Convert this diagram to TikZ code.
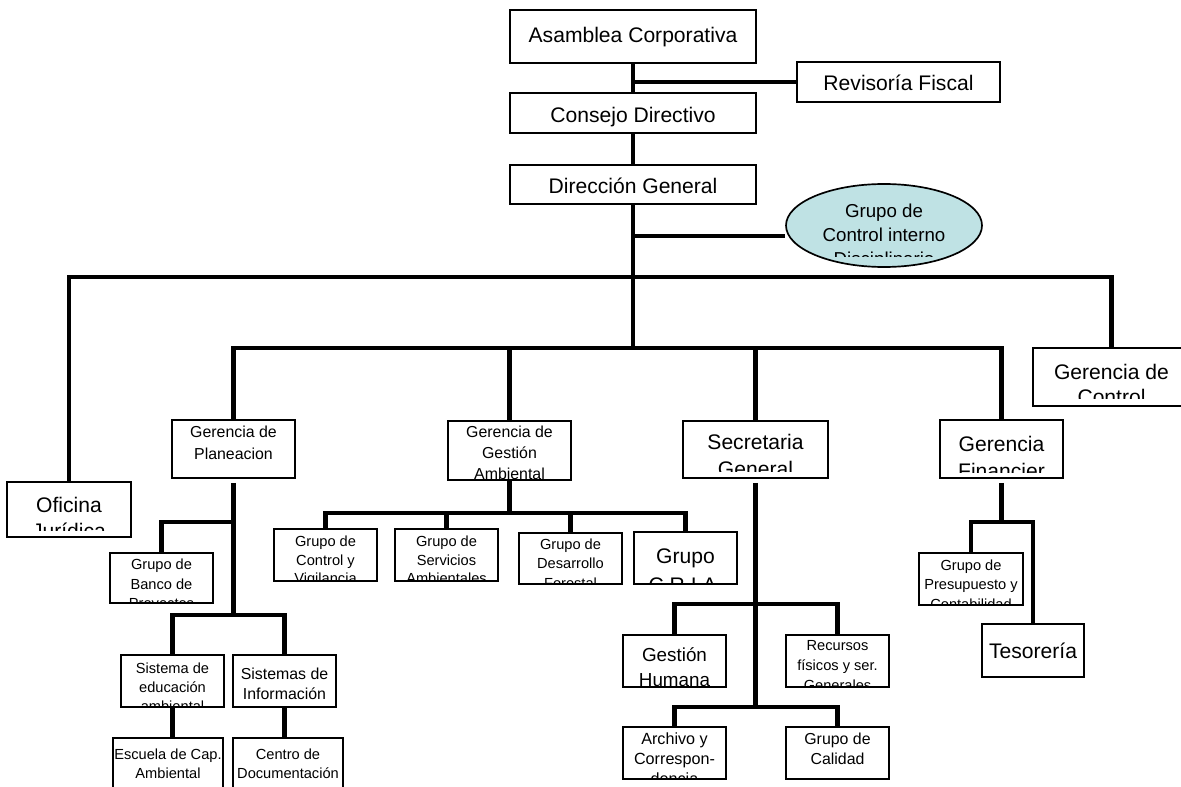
\documentclass[tikz,border=0pt]{standalone}
\usepackage{fontspec}
\setmainfont{Liberation Sans}
\usetikzlibrary{shapes.geometric}

\newcommand\px{0.025cm}
\newcommand\fs[2]{\fontsize{#1}{#2}\selectfont}
\definecolor{ctrlblue}{RGB}{191,226,228}

\tikzset{
  box/.style 2 args={draw, line width=1.2pt, fill=white, inner sep=0pt,
    minimum width=#1*\px, minimum height=#2*\px},
  % font, top offset, bottom margin, text
  txt/.style n args={4}{path picture={
    \clip ([yshift=#3*\px]path picture bounding box.south west) rectangle (path picture bounding box.north east);
    \node[rectangle, draw=none, fill=none, minimum size=0pt,
    anchor=north, inner sep=0pt, align=center, font=#1]
    at ([yshift=-#2*\px]path picture bounding box.north) {#4};}},
  link/.style={line width=3.1pt},
}

\begin{document}
\begin{tikzpicture}[x=0.025cm, y=-0.025cm]
\useasboundingbox (0,0) rectangle (1181,787);
\clip (0,0) rectangle (1181,787);

% top of the chart
\node[box={246}{53}, txt={\fs{15}{18}}{16}{0}{Asamblea Corporativa}] (asam) at (633,36.5) {};
\node[box={203}{40}, txt={\fs{15}{18}}{12}{0}{Revisoría Fiscal}] (rev) at (898.5,82) {};
\node[box={246}{40}, txt={\fs{15}{18}}{13}{0}{Consejo Directivo}] (cons) at (633,113) {};
\node[box={246}{39}, txt={\fs{15}{18}}{12}{0}{Dirección General}] (dir) at (633,184.5) {};
\node[box={196}{83}, ellipse, fill=ctrlblue, txt={\fs{13.3}{17}}{19}{11}{Grupo de\\Control interno\\Disciplinario}] (ctrl) at (884,225.5) {};

% first level
\node[box={124}{55}, txt={\fs{15}{18.5}}{14}{7}{Oficina\\Jurídica}] (ofi) at (69,509.5) {};
\node[box={157}{58}, txt={\fs{15}{17.8}}{15}{8}{Gerencia de\\Control}] (gctl) at (1111.5,377) {};
\node[box={123}{58}, txt={\fs{11.3}{15.6}}{5}{0}{Gerencia de\\Planeacion}] (plan) at (233.5,449) {};
\node[box={123}{59}, txt={\fs{11.3}{15}}{4}{0}{Gerencia de\\Gestión\\Ambiental}] (gamb) at (509.5,450.5) {};
\node[box={145}{57}, txt={\fs{15}{19.2}}{12}{7}{Secretaria\\General}] (sec) at (755.5,449.5) {};
\node[box={123}{58}, txt={\fs{15}{19.2}}{15}{6}{Gerencia\\Financier}] (fin) at (1001.5,449) {};

% planeacion
\node[box={103}{50}, txt={\fs{10.4}{14}}{5}{0}{Grupo de\\Banco de\\Proyectos}] (banco) at (161.5,578) {};
\node[box={103}{52}, txt={\fs{10.4}{13.6}}{7}{0}{Sistema de\\educación\\ambiental}] (sedu) at (172.5,681) {};
\node[box={103}{52}, txt={\fs{11.3}{14.2}}{12}{0}{Sistemas de\\Información}] (sinf) at (284.5,681) {};
\node[box={110}{62}, txt={\fs{10.4}{13.6}}{10}{0}{Escuela de Cap.\\Ambiental}] (esc) at (168,769) {};
\node[box={110}{62}, txt={\fs{10.4}{13.6}}{10}{0}{Centro de\\Documentación}] (cdoc) at (288,769) {};

% gestion ambiental
\node[box={103}{52}, txt={\fs{10.4}{13.2}}{6}{0}{Grupo de\\Control y\\Vigilancia}] (cvig) at (325.5,555) {};
\node[box={103}{52}, txt={\fs{10.4}{13.2}}{6}{0}{Grupo de\\Servicios\\Ambientales}] (serv) at (446.5,555) {};
\node[box={103}{51}, txt={\fs{10.4}{13.8}}{5}{0}{Grupo de\\Desarrollo\\Forestal}] (dfor) at (570.5,558.5) {};
\node[box={103}{52}, txt={\fs{15}{20.6}}{16}{0}{Grupo\\C.R.I.A.}] (cria) at (685.5,558) {};

% secretaria
\node[box={103}{52}, txt={\fs{13.4}{17.8}}{12}{0}{Gestión\\Humana}] (ghum) at (674.5,661) {};
\node[box={103}{52}, txt={\fs{10.4}{14.2}}{5}{0}{Recursos\\físicos y ser.\\Generales}] (recf) at (837.5,661) {};
\node[box={103}{52}, txt={\fs{11.5}{14.2}}{5}{0}{Archivo y\\Correspon-\\dencia}] (arch) at (674.5,753) {};
\node[box={103}{52}, txt={\fs{11.3}{14.2}}{5}{0}{Grupo de\\Calidad}] (cal) at (837.5,753) {};

% financiera
\node[box={104}{52}, txt={\fs{10.4}{13.8}}{6}{0}{Grupo de\\Presupuesto y\\Contabilidad}] (pres) at (971,579) {};
\node[box={102}{53}, txt={\fs{15}{18}}{18}{0}{Tesorería}] (teso) at (1033,650.5) {};

% junctions
\coordinate (cj) at (633,236);
\coordinate (hub1) at (633,277);
\coordinate (hub2) at (633,348);
\coordinate (p1) at (233.5,522);
\coordinate (p2) at (233.5,615);
\coordinate (g1) at (509.5,513);
\coordinate (s1) at (755.5,604);
\coordinate (s2) at (755.5,707);
\coordinate (f1) at (1001.5,522);

\path[draw,link] (asam) -- (cons);
\path[draw,link] (cons) -- (dir);
\path[draw,link] (rev) -- (rev -| asam);
\path[draw,link] (dir) -- (hub2);
\path[draw,link] (cj) -- (cj -| ctrl.west);
\path[draw,link] (ofi) |- (hub1) -| (gctl);
\path[draw,link] (plan) |- (hub2) -| (fin);
\path[draw,link] (gamb) -- (gamb |- hub2);
\path[draw,link] (sec) -- (sec |- hub2);

\path[draw,link,shorten <=2.8pt] (plan) -- (p2);
\path[draw,link] (banco) |- (p1);
\path[draw,link] (sedu) |- (p2) -| (sinf);
\path[draw,link] (sedu) -- (sedu |- esc.north);
\path[draw,link] (sinf) -- (sinf |- cdoc.north);

\path[draw,link] (gamb) -- (g1);
\path[draw,link] (cvig) |- (g1) -| (cria);
\path[draw,link] (serv) -- (serv |- g1);
\path[draw,link] (dfor) -- (dfor |- g1);

\path[draw,link,shorten <=2.8pt] (sec) -- (s2);
\path[draw,link] (ghum) |- (s1) -| (recf);
\path[draw,link] (arch) |- (s2) -| (cal);

\path[draw,link,shorten <=2.8pt] (fin) -- (f1);
\path[draw,link] (pres) |- (f1) -| (teso);
\end{tikzpicture}
\end{document}
